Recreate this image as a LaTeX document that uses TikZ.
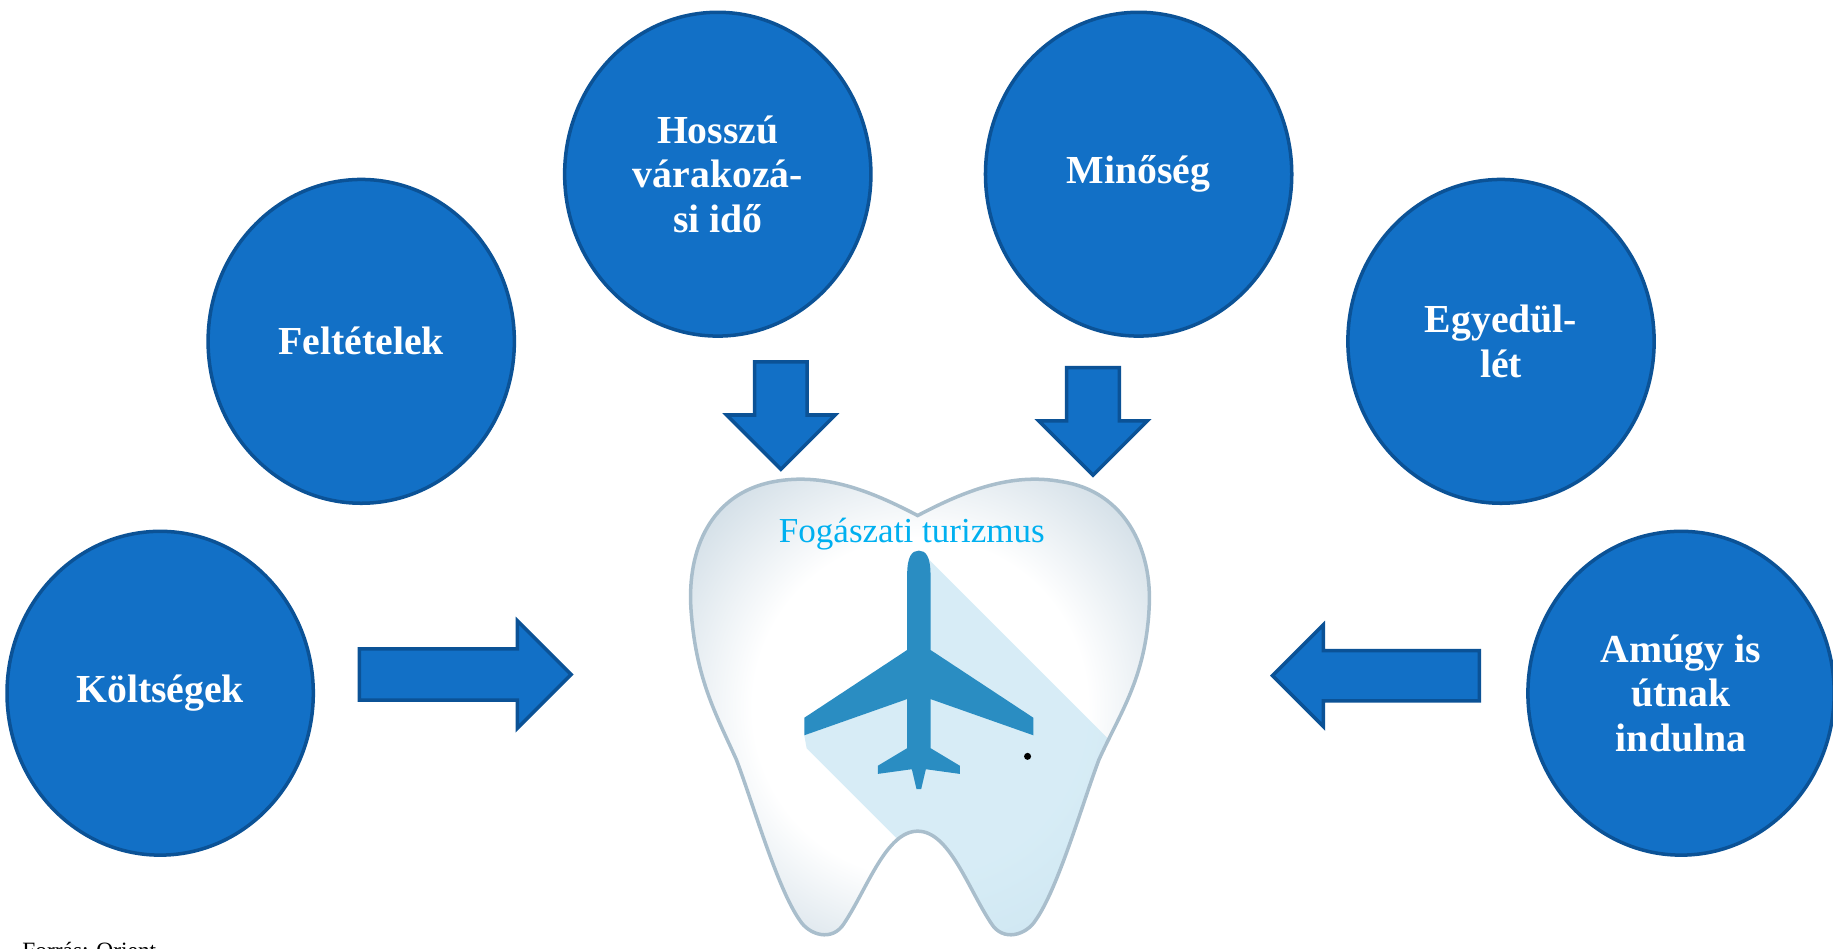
\documentclass[tikz,border=0pt]{standalone}
\usepackage{fontspec}
\setmainfont{Liberation Serif}
\usetikzlibrary{shapes.geometric,shapes.arrows}

\definecolor{bubblefill}{HTML}{1270C6}
\definecolor{bubbleedge}{HTML}{0B5296}
\definecolor{toothedge}{HTML}{B9CCD9}
\definecolor{toothline}{HTML}{A9BECC}
\definecolor{planeblue}{HTML}{2A8DC2}
\definecolor{shadowblue}{HTML}{CDE8F4}
\definecolor{titlecyan}{HTML}{00B0F0}
\pgfdeclareradialshading{toothglow}{\pgfpoint{0bp}{0bp}}{color(0bp)=(white); color(18bp)=(white); color(38bp)=(toothedge); color(50bp)=(toothedge)}

\tikzset{
  bubble/.style={ellipse, draw=bubbleedge, fill=bubblefill, line width=3pt,
    minimum width=262pt, minimum height=277pt, inner sep=0pt,
    text=white, align=center, font=\fontsize{34}{38}\selectfont\bfseries},
  blockarrow/.style={single arrow, draw=bubbleedge, fill=bubblefill, line width=3pt,
    single arrow tip angle=90, single arrow head indent=0pt, anchor=tail},
}

\begin{document}
\begin{tikzpicture}[x=1pt,y=-1pt]
  \useasboundingbox (0,0) rectangle (1568,811);

  % the six reasons
  \node[bubble] (costs)   at (137,593)  {Költségek};
  \node[bubble] (terms)   at (309,292)  {Feltételek};
  \node[bubble] (waiting) at (614,149)  {Hosszú\\várakozá-\\si idő};
  \node[bubble] (quality) at (974,149)  {Minőség};
  \node[bubble] (alone)   at (1284,292) {Egyedül-\\lét};
  \node[bubble] (travel)  at (1438,593) {Amúgy is\\útnak\\indulna};

  % block arrows towards the tooth
  \node[blockarrow, minimum height=181pt, inner xsep=0pt, inner ysep=20.5pt,
        single arrow head extend=24pt] (arrCosts) at (306,577) {};
  \node[blockarrow, shape border rotate=180, minimum height=177pt, inner xsep=0pt, inner ysep=20pt,
        single arrow head extend=22pt] (arrTravel) at (1267,578) {};
  \node[blockarrow, shape border rotate=270, minimum height=92pt, inner ysep=0pt, inner xsep=21pt,
        single arrow head extend=24pt] (arrWaiting) at (668,308) {};
  \node[blockarrow, shape border rotate=270, minimum height=92pt, inner ysep=0pt, inner xsep=21pt,
        single arrow head extend=24pt] (arrQuality) at (935,313) {};

  % tooth
  \shade[shading=toothglow, save path=\toothshape]
     (785,441)
     .. controls (745,420) and (705,404) .. (662,412)
     .. controls (608,422) and (588,470) .. (591,520)
     .. controls (595,580) and (612,610) .. (630,650)
     .. controls (645,690) and (665,760) .. (684,787)
     .. controls (692,800) and (712,806) .. (722,790)
     .. controls (742,760) and (758,711) .. (785,711)
     .. controls (812,711) and (828,760) .. (848,790)
     .. controls (858,806) and (878,800) .. (886,787)
     .. controls (905,760) and (925,690) .. (940,650)
     .. controls (958,610) and (980,580) .. (983,520)
     .. controls (986,470) and (962,420) .. (908,412)
     .. controls (865,404) and (825,420) .. (785,441) -- cycle;
  \begin{scope}
    \path[use path=\toothshape, clip];
    \fill[shadowblue, opacity=0.8] (796,480) -- (1020,704) -- (1020,850) -- (900,850)
      -- (690,640) -- (688,629) -- (776,598) -- (776,492) -- (786,471) -- cycle;
  \end{scope}
  \draw[use path=\toothshape, toothline, line width=3pt];

  % plane
  \fill[planeblue] (776,492) .. controls (776,476) and (780,471) .. (786,471)
     .. controls (792,471) and (796,476) .. (796,492)
     -- (796,556) -- (884,614) -- (884,629) -- (796,598) -- (796,640)
     -- (821,655) -- (821,662) -- (792,658) -- (788,675) -- (784,675)
     -- (780,658) -- (751,662) -- (751,655) -- (776,640) -- (776,598)
     -- (688,629) -- (688,614) -- (776,556) -- cycle;
  \fill (879,647) circle (3);

  \node[text=titlecyan, font=\fontsize{30}{36}\selectfont] (tourism) at (780,457) {Fogászati turizmus};

  \node[anchor=base west, inner sep=0pt, font=\fontsize{20}{24}\selectfont] (source) at (19,820) {Forrás: Orient};
\end{tikzpicture}
\end{document}
